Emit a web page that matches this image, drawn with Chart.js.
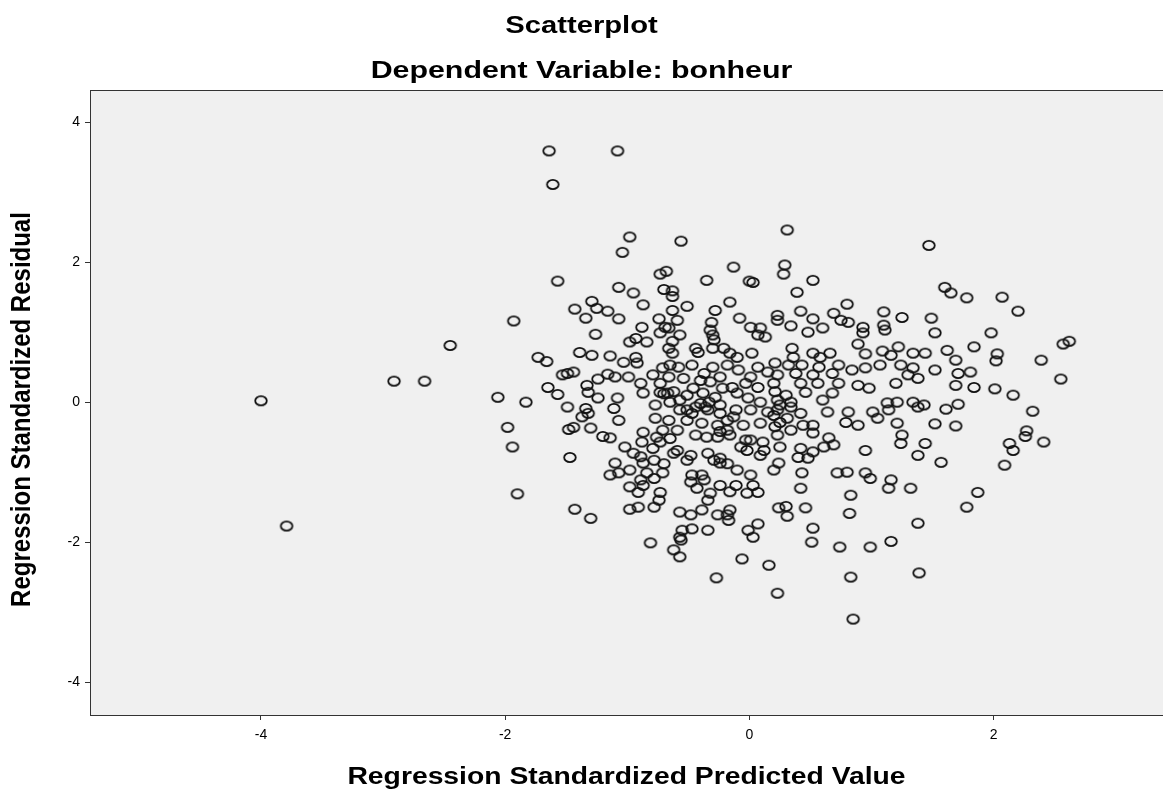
<!DOCTYPE html>
<html>
<head>
<meta charset="utf-8">
<title>Scatterplot</title>
<script src="https://cdn.jsdelivr.net/npm/chart.js@4.4.0/dist/chart.umd.min.js"></script>
<style>
  html, body { margin: 0; padding: 0; background: #fff; }
</style>
</head>
<body>
<canvas id="scatter" width="1163" height="794"></canvas>
<script>
// texts
const chartTitle = 'Scatterplot';
const chartSubtitle = 'Dependent Variable: bonheur';
const xAxisTitle = 'Regression Standardized Predicted Value';
const yAxisTitle = 'Regression Standardized Residual';

// tick labels
const xTicks = [-4, -2, 0, 2];
const yTicks = [-4, -2, 0, 2, 4];

// regression standardized predicted value (x)
const predicted = [
  -4.00, -3.79, -2.91, -2.66, -2.45, -1.64, -1.08, -1.61, -1.04, -1.57,
  -1.07, -1.29, -1.43, -1.25, -1.16, -1.34, -1.07, -1.93, -1.26, -1.39,
  -1.73, -1.29, -1.14, -1.66, -0.98, -0.56, -0.13, -0.68, -0.73, -0.35,
  0.00, 0.03, -0.70, -0.63, -0.95, -0.63, -0.16, -0.87, -0.51, -0.63,
  -0.28, -0.74, -0.59, -0.08, -0.31, -0.88, -0.69, -0.66, 0.01, 0.09,
  -0.32, -0.73, -0.57, -0.30, 0.07, 0.13, -0.29, -0.93, -0.98, -0.84,
  -0.63, -0.66, -0.44, -0.30, -0.21, -0.63, -0.42, -0.16, 0.02, -0.93,
  -0.10, 0.31, 0.29, 0.28, 0.52, 0.39, 0.80, 0.42, 0.23, 0.69,
  1.10, 1.25, 0.52, 0.75, 0.81, 0.23, 0.34, 0.60, 0.93, 1.10,
  1.11, 0.48, 0.93, 0.89, 0.35, 1.22, 1.09, 0.52, 0.66, 1.34,
  0.36, 0.95, 1.16, 0.58, 1.47, 1.60, 1.65, 1.78, 2.07, 2.20,
  1.49, 1.52, 1.98, 2.57, 2.62, 1.62, 1.84, 1.44, 2.03, 1.69,
  2.39, 2.02, -1.53, -1.49, -1.44, -1.33, -1.65, -1.57, -1.32, -1.24,
  -1.24, -1.16, -1.10, -1.08, -1.11, -2.06, -1.83, -1.49, -1.34, -1.37,
  -1.32, -1.07, -1.98, -1.48, -1.44, -1.30, -1.20, -1.14, -1.94, -1.47,
  -1.10, -1.14, -1.07, -1.90, -1.03, -0.92, -0.71, -0.65, -0.47, -0.30,
  -0.18, -0.09, 0.07, 0.15, -0.99, -0.89, -0.79, -0.66, -0.54, -0.40,
  -0.32, -0.22, -0.14, -0.03, 0.07, -0.87, -0.73, -0.67, -0.51, -0.38,
  -0.28, -0.10, -0.01, 0.09, -0.77, -0.65, -0.57, -0.44, -0.34, -0.24,
  -0.11, 0.01, 0.15, -0.77, -0.66, -0.51, -0.39, -0.26, -0.18, -0.05,
  0.09, -0.87, -0.71, -0.44, -0.26, -0.03, 0.11, -1.02, -0.88, -0.73,
  -0.95, -0.79, -0.59, -0.48, -0.34, -0.24, -0.02, 0.09, -0.87, -0.71,
  -0.84, -0.47, -0.39, -0.24, 0.01, -0.98, -0.87, -0.73, -0.43, -0.24,
  -0.11, 0.03, 0.07, -0.32, -0.91, 0.21, 0.32, 0.43, 0.57, 0.73,
  0.84, 0.95, 1.07, 1.24, 1.34, 0.23, 0.38, 0.52, 0.68, 1.30,
  1.38, 0.20, 0.42, 0.56, 0.73, 0.89, 0.98, 1.20, 0.46, 0.68,
  0.23, 0.34, 0.60, 1.13, 1.21, 1.34, 0.23, 0.42, 0.64, 0.81,
  1.01, 1.14, 1.38, 0.25, 0.44, 0.79, 0.89, 1.05, 1.21, 0.23,
  0.52, 0.65, 1.25, 1.24, 0.25, 0.42, 0.61, 0.69, 0.52, 0.95,
  1.38, 0.40, 0.48, 0.24, 0.20, 0.43, 0.72, 0.80, 0.95, 0.99,
  1.16, 0.42, 1.14, 1.32, 0.83, 1.52, 1.71, 1.81, 2.55, 1.69,
  1.84, 2.01, 2.16, 2.32, 1.43, 1.61, 1.71, 1.52, 1.69, 2.27,
  2.26, 2.41, 1.44, 2.13, 2.16, 1.57, 2.09, 1.87, -1.43, -1.30,
  -0.98, -0.91, -0.78, -0.74, -0.57, -0.48, -0.39, -0.26, -0.18, -0.16,
  -0.17, -0.34, -0.55, -0.47, -0.57, -0.56, -0.34, -0.01, 0.07, 0.03,
  -0.81, -0.62, -0.57, -0.06, -0.27, 0.16, 0.24, 0.30, 0.31, 0.46,
  0.82, 1.38, 0.52, 0.51, 0.74, 0.99, 1.16, 1.39, 0.83, 0.23,
  0.85, 1.78,
  // dense middle of the cloud
  -0.70, -0.62, -0.57, -0.40, -0.36, -0.33, -0.24, -0.51, -0.47, -0.18,
  -0.13, -0.59, -0.35, -0.24, -0.16, -0.76, -0.65, -0.07, 0.01, 0.12,
  -0.89, -0.78, -0.70, -0.62, -0.51, -0.29, -0.18, -0.10, -0.98, -0.89,
  -0.78, -0.48, -0.37, -0.16, -0.02, 0.21, 0.30, 0.25, 0.34, 0.20,
  0.31, 0.21, 0.34, 0.52, -0.58, -0.37, -0.24, 0.01, -0.73, -0.46
];

// regression standardized residual (y), same order as predicted
const residual = [
  0.02, -1.77, 0.30, 0.30, 0.81, 3.59, 3.59, 3.11, 2.14, 1.73,
  1.64, 1.44, 1.33, 1.34, 1.30, 1.20, 1.19, 1.16, 0.97, 0.71,
  0.64, 0.67, 0.66, 0.58, 2.36, 2.30, 1.93, 1.87, 1.83, 1.74,
  1.73, 1.71, 1.61, 1.59, 1.56, 1.51, 1.43, 1.39, 1.37, 1.31,
  1.31, 1.19, 1.17, 1.20, 1.14, 1.07, 1.07, 1.06, 1.07, 1.06,
  1.03, 0.99, 0.96, 0.96, 0.96, 0.93, 0.89, 0.91, 0.86, 0.86,
  0.87, 0.77, 0.77, 0.77, 0.77, 0.70, 0.71, 0.70, 0.70, 0.64,
  0.64, 2.46, 1.96, 1.83, 1.74, 1.57, 1.40, 1.30, 1.24, 1.27,
  1.29, 1.21, 1.19, 1.17, 1.14, 1.17, 1.09, 1.06, 1.07, 1.10,
  1.03, 1.00, 0.99, 0.83, 0.77, 0.79, 0.73, 0.70, 0.70, 0.70,
  0.64, 0.69, 0.67, 0.64, 2.24, 1.64, 1.56, 1.49, 1.50, 1.30,
  1.20, 0.99, 0.99, 0.83, 0.87, 0.74, 0.79, 0.70, 0.69, 0.60,
  0.60, 0.59, 0.39, 0.41, 0.43, 0.24, 0.21, 0.11, 0.14, 0.33,
  0.06, 0.40, 0.36, 0.06, -0.09, 0.07, 0.00, -0.07, -0.09, -0.21,
  -0.16, -0.26, -0.36, -0.39, -0.36, -0.37, -0.49, -0.51, -0.64, -0.79,
  -0.87, -1.04, -1.01, -1.31, 0.57, 0.56, 0.49, 0.53, 0.53, 0.50,
  0.53, 0.46, 0.50, 0.43, 0.36, 0.27, 0.39, 0.36, 0.34, 0.31,
  0.29, 0.20, 0.21, 0.27, 0.21, 0.13, 0.14, 0.13, 0.10, 0.13,
  0.07, 0.13, 0.06, 0.00, -0.04, 0.00, -0.11, -0.07, -0.11, -0.04,
  -0.11, -0.11, -0.14, -0.23, -0.26, -0.26, -0.30, -0.33, -0.40, -0.33,
  -0.30, -0.43, -0.40, -0.47, -0.50, -0.54, -0.57, -0.64, -0.57, -0.57,
  -0.73, -0.66, -0.69, -0.76, -0.73, -0.80, -0.69, -0.76, -0.87, -1.01,
  -1.01, -1.04, -1.04, -0.87, -1.04, -1.21, -1.19, -1.29, -1.23, -1.19,
  -1.19, -1.19, -1.29, -1.30, -1.29, 0.56, 0.53, 0.53, 0.50, 0.53,
  0.46, 0.49, 0.53, 0.53, 0.49, 0.39, 0.41, 0.39, 0.41, 0.39,
  0.34, 0.27, 0.27, 0.27, 0.27, 0.24, 0.20, 0.27, 0.14, 0.13,
  0.03, 0.00, 0.03, -0.01, 0.00, 0.00, -0.11, -0.16, -0.14, -0.14,
  -0.14, -0.11, -0.07, -0.29, -0.33, -0.29, -0.33, -0.23, -0.30, -0.47,
  -0.44, -0.51, -0.47, -0.59, -0.64, -0.66, -0.64, -0.61, -0.71, -0.69,
  -0.76, -0.79, -0.80, -0.87, -0.97, -1.01, -1.01, -1.00, -1.01, -1.09,
  -1.11, -1.23, -1.23, -1.23, -1.33, 0.46, 0.41, 0.43, 0.33, 0.24,
  0.21, 0.19, 0.10, -0.13, -0.04, -0.10, -0.03, -0.31, -0.34, -0.41,
  -0.49, -0.57, -0.59, -0.59, -0.69, -0.86, -0.90, -1.29, -1.53, -1.66,
  -1.53, -1.50, -1.50, -1.40, -1.57, -1.61, -1.54, -1.61, -1.61, -1.54,
  -1.69, -1.40, -1.83, -1.81, -1.93, -1.97, -1.83, -1.83, -1.74, -1.93,
  -2.01, -2.11, -2.21, -2.24, -2.51, -2.33, -1.51, -1.49, -1.63, -1.51,
  -1.59, -1.73, -1.80, -2.00, -2.07, -2.07, -1.99, -2.44, -2.50, -2.73,
  -3.10, -1.50,
  // dense middle of the cloud
  0.12, 0.15, 0.03, -0.02, -0.07, 0.00, -0.16, -0.11, -0.16, -0.26,
  -0.21, -0.40, -0.50, -0.42, -0.47, -0.50, -0.52, -0.64, -0.54, -0.69,
  -0.78, -0.83, -0.88, -0.73, -0.83, -0.83, -0.88, -0.97, -0.97, -1.11,
  -1.09, -1.14, -1.11, -1.28, -1.30, 0.15, 0.10, -0.04, -0.07, -0.19,
  -0.23, -0.35, -0.40, -0.33, 0.50, 0.41, 0.36, 0.36, 0.27, 0.20
];

const fontFamily = '"Liberation Sans", Arial, sans-serif';

// SPSS draws its markers as slightly wide open circles
function makeMarker() {
    const c = document.createElement('canvas');
    c.width = 16;
    c.height = 13;
    const g = c.getContext('2d');
    g.strokeStyle = '#111';
    g.lineWidth = 1.8;
    g.beginPath();
    g.ellipse(8, 6.5, 5.8, 4.6, 0, 0, Math.PI * 2);
    g.stroke();
    return c;
}

// horizontally widened bold text, like the exported SPSS picture
function wideText(ctx, text, x, y, size, stretch, vertical) {
    ctx.save();
    ctx.translate(x, y);
    if (vertical) {
        ctx.rotate(-Math.PI / 2);
        ctx.scale(1, stretch);
    } else {
        ctx.scale(stretch, 1);
    }
    ctx.font = 'bold ' + size + 'px ' + fontFamily;
    ctx.textAlign = 'center';
    ctx.textBaseline = 'middle';
    ctx.fillStyle = '#000';
    ctx.fillText(text, 0, 0);
    ctx.restore();
}

// grey plot panel; it runs off the right edge of the picture
const spssFrame = {
    id: 'spssFrame',
    beforeDraw(chart) {
        const { ctx, chartArea: a } = chart;
        ctx.save();
        ctx.fillStyle = '#f0f0f0';
        ctx.fillRect(a.left, a.top, chart.width - a.left, a.bottom - a.top);
        ctx.restore();
    },
    afterDraw(chart) {
        const { ctx, chartArea: a } = chart;
        ctx.save();
        ctx.strokeStyle = '#333';
        ctx.lineWidth = 1;
        ctx.strokeRect(a.left + 0.5, a.top + 0.5, chart.width - a.left + 4, a.bottom - a.top);
        ctx.restore();

        const midX = (a.left + chart.width) / 2;
        const midY = (a.top + a.bottom) / 2;
        wideText(ctx, chartTitle, chart.width / 2, 27, 23, 1.27, false);
        wideText(ctx, chartSubtitle, chart.width / 2, 72, 23, 1.32, false);
        wideText(ctx, xAxisTitle, midX, 778, 23, 1.23, false);
        wideText(ctx, yAxisTitle, 22, midY + 7, 24, 1.18, true);
    }
};

const marker = makeMarker();

new Chart(document.getElementById('scatter'), {
    type: 'scatter',
    data: {
        datasets: [{
            label: 'bonheur',
            data: predicted.map((x, i) => ({ x: x, y: residual[i] })),
            pointStyle: marker,
            pointRadius: 6,
            pointHoverRadius: 6
        }]
    },
    options: {
        responsive: false,
        animation: false,
        devicePixelRatio: 1,
        layout: { padding: { top: 90, left: 0, right: 0, bottom: 0 } },
        plugins: {
            legend: { display: false },
            tooltip: { enabled: false }
        },
        scales: {
            x: {
                type: 'linear',
                min: -5.40,
                max: 3.33,
                afterBuildTicks: scale => { scale.ticks = xTicks.map(v => ({ value: v })); },
                afterFit: scale => { scale.height = 79; },
                grid: { drawOnChartArea: false, drawTicks: true, tickLength: 5, color: '#333' },
                border: { display: true, color: '#333' },
                ticks: {
                    color: '#000',
                    padding: 7,
                    font: { family: fontFamily, size: 14 }
                }
            },
            y: {
                type: 'linear',
                min: -4.47,
                max: 4.46,
                afterBuildTicks: scale => { scale.ticks = yTicks.map(v => ({ value: v })); },
                afterFit: scale => { scale.width = 90; },
                grid: { drawOnChartArea: false, drawTicks: true, tickLength: 5, color: '#333' },
                border: { display: true, color: '#333' },
                ticks: {
                    color: '#000',
                    padding: 5,
                    font: { family: fontFamily, size: 14 }
                }
            }
        }
    },
    plugins: [spssFrame]
});
</script>
</body>
</html>
